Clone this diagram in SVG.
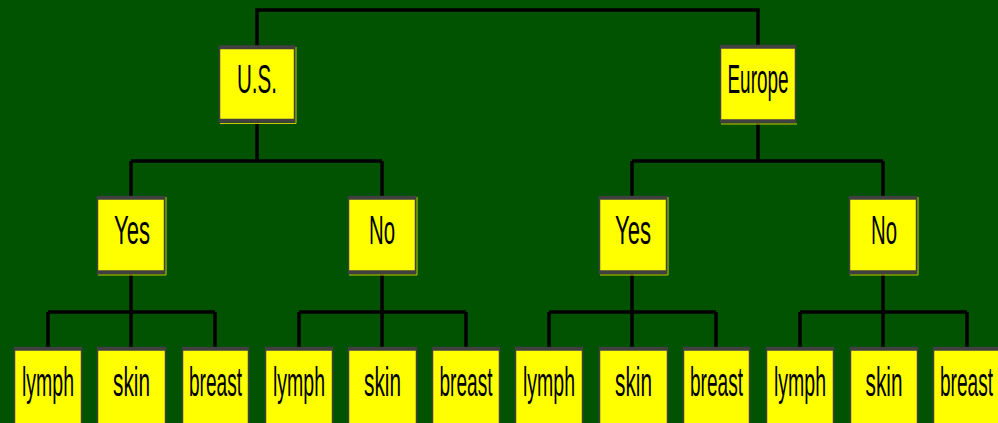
<svg xmlns="http://www.w3.org/2000/svg" width="998" height="423" viewBox="0 0 998 423">
<style>
.box{fill:#ffff00;stroke:#404040;stroke-width:1.5}
.edge{stroke:#404040;stroke-width:3.5}
.shadow{stroke:#c8c800;stroke-width:1;fill:none}
.lbl{font-family:"Liberation Sans",Arial,sans-serif;font-size:41px;fill:#000;text-anchor:middle}
.conn{stroke:#000;stroke-width:3.5;fill:none}
</style>
<rect width="998" height="423" fill="#015201"/>
<g id="connectors">
<path class="conn" d="M257,46 V10 H758 V45"/>
<path class="conn" d="M257,122 V161 M131,161 H382 M131,161 V196 M382,161 V196"/>
<path class="conn" d="M758,123 V161 M632,161 H883 M632,161 V196 M883,161 V196"/>
<path class="conn" d="M131,274 V312 M48,312 H215 M48,312 V347 M131,312 V347 M215,312 V347"/>
<path class="conn" d="M382,274 V312 M299,312 H466 M299,312 V347 M382,312 V347 M466,312 V347"/>
<path class="conn" d="M632,274 V312 M549,312 H716 M549,312 V347 M632,312 V347 M716,312 V347"/>
<path class="conn" d="M883,274 V312 M800,312 H967 M800,312 V347 M883,312 V347 M967,312 V347"/>
</g>
<g id="us">
<rect class="box" x="219.5" y="46" width="75" height="76"/>
<path class="edge" d="M219,47.5 H295 M219,120.5 H295"/>
<path class="shadow" d="M220,123.5 H296 V47"/>
<text class="lbl" transform="translate(257,93) scale(0.5,1)" textLength="80" lengthAdjust="spacingAndGlyphs">U.S.</text>
</g>
<g id="europe">
<rect class="box" x="720.5" y="45.5" width="75" height="77"/>
<path class="edge" d="M720,47 H796 M720,121 H796"/>
<path class="shadow" d="M721,124 H797"/>
<text class="lbl" transform="translate(758,93) scale(0.5,1)" textLength="122" lengthAdjust="spacingAndGlyphs">Europe</text>
</g>
<g id="us-yes">
<rect class="box" x="97.5" y="196.5" width="67" height="77"/>
<path class="edge" d="M97,198 H165 M97,272 H165"/>
<path class="shadow" d="M98,275 H166 V197"/>
<text class="lbl" transform="translate(132,244) scale(0.5,1)" textLength="72" lengthAdjust="spacingAndGlyphs">Yes</text>
</g>
<g id="us-no">
<rect class="box" x="348.5" y="196.5" width="67" height="77"/>
<path class="edge" d="M348,198 H416 M348,272 H416"/>
<path class="shadow" d="M349,275 H417 V197"/>
<text class="lbl" transform="translate(382,244) scale(0.5,1)" textLength="52" lengthAdjust="spacingAndGlyphs">No</text>
</g>
<g id="eu-yes">
<rect class="box" x="599.5" y="196.5" width="67" height="77"/>
<path class="edge" d="M599,198 H667 M599,272 H667"/>
<path class="shadow" d="M600,275 H668 V197"/>
<text class="lbl" transform="translate(633,244) scale(0.5,1)" textLength="72" lengthAdjust="spacingAndGlyphs">Yes</text>
</g>
<g id="eu-no">
<rect class="box" x="849.5" y="196.5" width="67" height="77"/>
<path class="edge" d="M849,198 H917 M849,272 H917"/>
<path class="shadow" d="M850,275 H918 V197"/>
<text class="lbl" transform="translate(884,244) scale(0.5,1)" textLength="52" lengthAdjust="spacingAndGlyphs">No</text>
</g>
<g id="us-yes-lymph">
<rect class="box" x="14.5" y="347.5" width="67" height="80"/>
<path class="edge" d="M14,349 H82"/>
<text class="lbl" transform="translate(48,396) scale(0.5,1)" textLength="104" lengthAdjust="spacingAndGlyphs">lymph</text>
</g>
<g id="us-yes-skin">
<rect class="box" x="97.5" y="347.5" width="68" height="80"/>
<path class="edge" d="M97,349 H166"/>
<text class="lbl" transform="translate(131.5,396) scale(0.5,1)" textLength="74" lengthAdjust="spacingAndGlyphs">skin</text>
</g>
<g id="us-yes-breast">
<rect class="box" x="182.5" y="347.5" width="66" height="80"/>
<path class="edge" d="M182,349 H249"/>
<text class="lbl" transform="translate(215.5,396) scale(0.5,1)" textLength="106" lengthAdjust="spacingAndGlyphs">breast</text>
</g>
<g id="us-no-lymph">
<rect class="box" x="265.5" y="347.5" width="67" height="80"/>
<path class="edge" d="M265,349 H333"/>
<text class="lbl" transform="translate(299,396) scale(0.5,1)" textLength="104" lengthAdjust="spacingAndGlyphs">lymph</text>
</g>
<g id="us-no-skin">
<rect class="box" x="348.5" y="347.5" width="68" height="80"/>
<path class="edge" d="M348,349 H417"/>
<text class="lbl" transform="translate(382.5,396) scale(0.5,1)" textLength="74" lengthAdjust="spacingAndGlyphs">skin</text>
</g>
<g id="us-no-breast">
<rect class="box" x="432.5" y="347.5" width="67" height="80"/>
<path class="edge" d="M432,349 H500"/>
<text class="lbl" transform="translate(466,396) scale(0.5,1)" textLength="106" lengthAdjust="spacingAndGlyphs">breast</text>
</g>
<g id="eu-yes-lymph">
<rect class="box" x="515.5" y="347.5" width="67" height="80"/>
<path class="edge" d="M515,349 H583"/>
<text class="lbl" transform="translate(549,396) scale(0.5,1)" textLength="104" lengthAdjust="spacingAndGlyphs">lymph</text>
</g>
<g id="eu-yes-skin">
<rect class="box" x="599.5" y="347.5" width="68" height="80"/>
<path class="edge" d="M599,349 H668"/>
<text class="lbl" transform="translate(633.5,396) scale(0.5,1)" textLength="74" lengthAdjust="spacingAndGlyphs">skin</text>
</g>
<g id="eu-yes-breast">
<rect class="box" x="683.5" y="347.5" width="66" height="80"/>
<path class="edge" d="M683,349 H750"/>
<text class="lbl" transform="translate(716.5,396) scale(0.5,1)" textLength="106" lengthAdjust="spacingAndGlyphs">breast</text>
</g>
<g id="eu-no-lymph">
<rect class="box" x="766.5" y="347.5" width="67" height="80"/>
<path class="edge" d="M766,349 H834"/>
<text class="lbl" transform="translate(800,396) scale(0.5,1)" textLength="104" lengthAdjust="spacingAndGlyphs">lymph</text>
</g>
<g id="eu-no-skin">
<rect class="box" x="850.5" y="347.5" width="67" height="80"/>
<path class="edge" d="M850,349 H918"/>
<text class="lbl" transform="translate(884,396) scale(0.5,1)" textLength="74" lengthAdjust="spacingAndGlyphs">skin</text>
</g>
<g id="eu-no-breast">
<rect class="box" x="933.5" y="347.5" width="66" height="80"/>
<path class="edge" d="M933,349 H1000"/>
<text class="lbl" transform="translate(966.5,396) scale(0.5,1)" textLength="106" lengthAdjust="spacingAndGlyphs">breast</text>
</g>
</svg>
